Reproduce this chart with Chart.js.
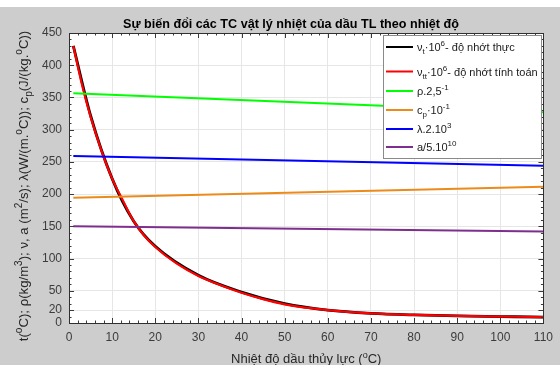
<!DOCTYPE html>
<html>
<head>
<meta charset="utf-8">
<script src="https://cdn.jsdelivr.net/npm/chart.js@4.4.1/dist/chart.umd.min.js"></script>
<style>
  html, body { margin: 0; padding: 0; background: #cdcdcd; }
  #wrap { width: 560px; height: 365px; }
</style>
</head>
<body>
<div id="wrap"><canvas id="chart" width="560" height="365"></canvas></div>
<script>
// Measured viscosity (black) and computed viscosity (red), scaled x10^6
const tempReal = [1, 5, 10, 15, 20, 30, 40, 50, 60, 70, 80, 90, 100, 110];
const nuReal = [430, 322, 224, 158, 119, 74, 48, 30, 20, 15, 12.5, 11, 10, 9];

const tempCalc = [1, 3, 5, 7.5, 10, 12.5, 15, 17.5, 20, 25, 30, 35, 40, 45, 50, 60, 70, 80, 90, 100, 110];
const nuCalc = [430, 370, 320, 268, 224, 190, 158, 135, 118, 92, 73, 59, 47, 37, 29, 20, 15, 12.5, 11, 10, 9];

// Nearly straight property lines
const tempProps = [1, 110];
const rho = [356.5, 327];
const cp = [194.5, 211.5];
const lambda = [259, 244];
const diffusivity = [150, 142];

const yTicks = [0, 20, 50, 100, 150, 200, 250, 300, 350, 400, 450];

const FAMILY = '"Liberation Sans", Arial, sans-serif';

function toPoints(xs, ys) {
    return xs.map((x, i) => ({ x: x, y: ys[i] }));
}

// draws text made of [text, kind] pieces, kind 1 = superscript, -1 = subscript
function drawRich(ctx, segs, x, y, size, align, weight) {
    const small = Math.round(size * 0.72);
    const w0 = weight || 'normal';
    let total = 0;
    segs.forEach(([t, k]) => {
        ctx.font = w0 + ' ' + (k ? small : size) + 'px ' + FAMILY;
        total += ctx.measureText(t).width;
    });
    let cx = align === 'center' ? x - total / 2 : x;
    ctx.textAlign = 'left';
    ctx.textBaseline = 'alphabetic';
    segs.forEach(([t, k]) => {
        ctx.font = w0 + ' ' + (k ? small : size) + 'px ' + FAMILY;
        const dy = k === 1 ? -size * 0.42 : (k === -1 ? size * 0.28 : 0);
        ctx.fillText(t, cx, y + dy);
        cx += ctx.measureText(t).width;
    });
}

const legendItems = [
    { color: '#000000', y: 47, segs: [['ν', 0], ['t', -1], ['·10', 0], ['6', 1], ['- độ nhớt thực', 0]] },
    { color: '#ff0000', y: 71.5, segs: [['ν', 0], ['tt', -1], ['·10', 0], ['6', 1], ['- độ nhớt tính toán', 0]] },
    { color: '#00ff00', y: 91, segs: [['ρ.2,5', 0], ['-1', 1]] },
    { color: '#ec8a1a', y: 110, segs: [['c', 0], ['p', -1], ['·10', 0], ['-1', 1]] },
    { color: '#0000ff', y: 129, segs: [['λ.2.10', 0], ['3', 1]] },
    { color: '#7e2f8e', y: 147, segs: [['a/5.10', 0], ['10', 1]] }
];

const yTitle = [['t(', 0], ['o', 1], ['C); ρ(kg/m', 0], ['3', 1], ['); ν, a (m', 0], ['2', 1],
    ['/s); λ(W/(m.', 0], ['o', 1], ['C)); c', 0], ['p', -1], ['(J/(kg.', 0], ['o', 1], ['C))', 0]];
const xTitle = [['Nhiệt độ dầu thủy lực (', 0], ['o', 1], ['C)', 0]];
const chartTitle = 'Sự biến đổi các TC vật lý nhiệt của dầu TL theo nhiệt độ';

const framePlugin = {
    id: 'frame',
    beforeDraw(chart) {
        const ctx = chart.ctx;
        const a = chart.chartArea;
        ctx.save();
        ctx.fillStyle = '#cdcdcd';
        ctx.fillRect(0, 0, chart.width, chart.height);
        ctx.fillStyle = '#ffffff';
        ctx.fillRect(0, 0, chart.width, 7);
        ctx.fillRect(a.left, a.top, a.right - a.left, a.bottom - a.top);
        ctx.restore();
    },
    afterDraw(chart) {
        const ctx = chart.ctx;
        const a = chart.chartArea;
        const xs = chart.scales.x;
        const ys = chart.scales.y;
        ctx.save();

        // tick marks inside the box on all four sides
        ctx.strokeStyle = '#3a3a3a';
        ctx.lineWidth = 1;
        ctx.beginPath();
        for (let v = 0; v <= 110; v += 2) {
            const px = Math.round(xs.getPixelForValue(v)) + 0.5;
            const len = v % 10 === 0 ? 5 : 2.5;
            ctx.moveTo(px, a.bottom); ctx.lineTo(px, a.bottom - len);
            ctx.moveTo(px, a.top); ctx.lineTo(px, a.top + len);
        }
        for (let v = 0; v <= 450; v += 10) {
            const py = Math.round(ys.getPixelForValue(v)) + 0.5;
            const len = yTicks.includes(v) ? 5 : 2.5;
            ctx.moveTo(a.left, py); ctx.lineTo(a.left + len, py);
            ctx.moveTo(a.right, py); ctx.lineTo(a.right - len, py);
        }
        ctx.stroke();
        ctx.strokeStyle = '#303030';
        ctx.strokeRect(Math.round(a.left) + 0.5, Math.round(a.top) + 0.5,
            Math.round(a.right - a.left), Math.round(a.bottom - a.top));

        // legend box
        ctx.fillStyle = '#ffffff';
        ctx.fillRect(383, 35, 159, 124);
        ctx.strokeStyle = '#8a8a8a';
        ctx.strokeRect(383.5, 35.5, 158, 123);
        legendItems.forEach(item => {
            ctx.strokeStyle = item.color;
            ctx.lineWidth = 2;
            ctx.beginPath();
            ctx.moveTo(386, item.y);
            ctx.lineTo(413, item.y);
            ctx.stroke();
            ctx.fillStyle = '#1a1a1a';
            drawRich(ctx, item.segs, 417, item.y + 4, 11);
        });

        // titles
        ctx.fillStyle = '#000000';
        drawRich(ctx, [[chartTitle, 0]], 291, 28, 12.6, 'center', 'bold');
        ctx.fillStyle = '#262626';
        drawRich(ctx, xTitle, (a.left + a.right) / 2, 363, 13, 'center');
        ctx.translate(28, 186);
        ctx.rotate(-Math.PI / 2);
        drawRich(ctx, yTitle, 0, 0, 13.2, 'center');
        ctx.restore();
    }
};

function lineSet(label, xs, ys, color, width, order, smooth) {
    return {
        label: label,
        data: toPoints(xs, ys),
        borderColor: color,
        backgroundColor: color,
        borderWidth: width,
        pointRadius: 0,
        fill: false,
        order: order,
        cubicInterpolationMode: smooth ? 'monotone' : 'default',
        tension: 0
    };
}

const ctx = document.getElementById('chart').getContext('2d');
new Chart(ctx, {
    type: 'line',
    data: {
        datasets: [
            lineSet('nu_t', tempReal, nuReal, '#000000', 2.8, 5, true),
            lineSet('nu_tt', tempCalc, nuCalc, '#ff0000', 2.2, 4, true),
            lineSet('rho', tempProps, rho, '#00ff00', 2, 3, false),
            lineSet('cp', tempProps, cp, '#ec8a1a', 2, 2, false),
            lineSet('lambda', tempProps, lambda, '#0000ff', 2, 1, false),
            lineSet('a', tempProps, diffusivity, '#7e2f8e', 2, 0, false)
        ]
    },
    options: {
        responsive: false,
        animation: false,
        layout: { padding: { top: 33, right: 9, left: 0, bottom: 0 } },
        plugins: {
            legend: { display: false },
            tooltip: { enabled: false }
        },
        scales: {
            x: {
                type: 'linear',
                min: 0,
                max: 110,
                afterFit: s => { s.height = 42; },
                ticks: {
                    stepSize: 10,
                    autoSkip: false,
                    maxRotation: 0,
                    padding: 7,
                    color: '#3c3c3c',
                    font: { family: FAMILY, size: 12 }
                },
                grid: { color: '#e6e6e6', drawTicks: false },
                border: { display: false }
            },
            y: {
                min: 0,
                max: 450,
                afterFit: s => { s.width = 69; },
                afterBuildTicks: s => { s.ticks = yTicks.map(v => ({ value: v })); },
                ticks: {
                    autoSkip: false,
                    padding: 7,
                    color: '#3c3c3c',
                    font: { family: FAMILY, size: 12 }
                },
                grid: { color: '#e6e6e6', drawTicks: false },
                border: { display: false }
            }
        }
    },
    plugins: [framePlugin]
});
</script>
</body>
</html>
